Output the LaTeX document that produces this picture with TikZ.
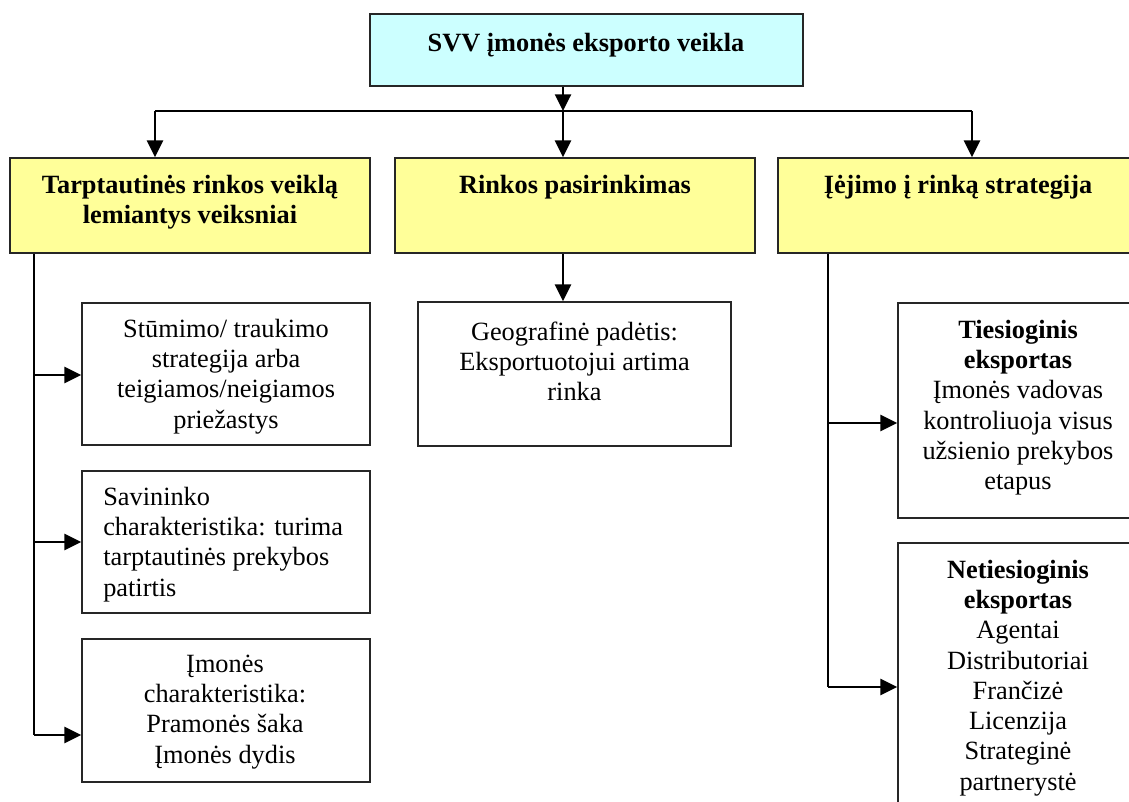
\documentclass[tikz,border=0pt]{standalone}
\usepackage{fontspec}
\setmainfont{Liberation Serif}
\usetikzlibrary{arrows.meta,fit}
\definecolor{cyanbg}{HTML}{CCFFFF}
\definecolor{yellowbg}{HTML}{FFFF99}
\tikzset{
  box/.style={draw=black!85, line width=1.3pt, inner sep=0pt},
  topbox/.style={box, fill=cyanbg},
  headbox/.style={box, fill=yellowbg},
  txt/.style={inner sep=0pt, align=center, font=\fontsize{19.75}{22.7}\selectfont},
  btxt/.style={txt, font=\fontsize{19.75}{22.7}\selectfont\bfseries},
  link/.style={line width=1.8pt},
  arr/.style={link, -{Triangle[length=12.5pt,width=12pt]}},
  bar/.style={line width=1pt},
}
\begin{document}
\begin{tikzpicture}[x=0.75pt,y=-0.75pt]
\useasboundingbox (0,0) rectangle (1129,801);
\clip (0,0) rectangle (1129,801);

% boxes
\node[topbox,  fit={(370,14) (803,86)}]    (top) {};
\node[headbox, fit={(10,158) (370,253)}]   (y1) {};
\node[headbox, fit={(395,158) (755,253)}]  (y2) {};
\node[headbox, fit={(778,158) (1138,253)}] (y3) {};
\node[box, fit={(82,303) (370,445)}]  (bA) {};
\node[box, fit={(82,471) (370,613)}]  (bB) {};
\node[box, fit={(82,639) (370,782)}]  (bC) {};
\node[box, fit={(418,302) (731,446)}] (mid) {};
\node[box, fit={(898,303) (1138,518)}] (tA) {};
\node[box, fit={(898,543) (1138,830)}] (tB) {};

% texts
\node[btxt, anchor=north] (ttop) at (586,29.8) {\strut SVV įmonės eksporto veikla};
\node[btxt, anchor=north] (ty1) at (190,171.8) {\strut Tarptautinės rinkos veiklą\\lemiantys veiksniai};
\node[btxt, anchor=north] (ty2) at (575,171.8) {\strut Rinkos pasirinkimas};
\node[btxt, anchor=north] (ty3) at (958,171.8) {\strut Įėjimo į rinką strategija};
\node[txt, anchor=north] (tbA) at (226,315.8) {\strut Stūmimo/ traukimo\\strategija arba\\teigiamos/neigiamos\\priežastys};
\node[txt, anchor=north west, align=left] (tbB) at (103,483.8) {\strut Savininko\\charakteristika: turima\\tarptautinės prekybos\\patirtis};
\node[txt, anchor=north] (tbC) at (225,650.8) {\strut Įmonės\\charakteristika:\\Pramonės šaka\\Įmonės dydis};
\node[txt, anchor=north] (tmid) at (574.5,318.8) {\strut Geografinė padėtis:\\Eksportuotojui artima\\rinka};
\node[txt, anchor=north] (ttA) at (1018,316.8) {\strut\textbf{Tiesioginis}\\\textbf{eksportas}\\Įmonės vadovas\\kontroliuoja visus\\užsienio prekybos\\etapus};
\node[txt, anchor=north] (ttB) at (1018,556.8) {\strut\textbf{Netiesioginis}\\\textbf{eksportas}\\Agentai\\Distributoriai\\Frančizė\\Licenzija\\Strateginė\\partnerystė};

% junction points
\coordinate (hl) at (155,111);
\coordinate (hm) at (563,111);
\coordinate (hr) at (972,111);
\coordinate (lb) at (34,735);
\coordinate (la) at (34,375);
\coordinate (rb) at (828,687);
\coordinate (ra) at (828,423);

% top level distribution
\draw[arr] (top.south -| hm) -- (hm);
\draw[bar] (hl) -- (hr);
\draw[arr] (hl) -- (y1.north -| hl);
\draw[arr] (hm) -- (y2.north -| hm);
\draw[arr] (hr) -- (y3.north -| hr);

% left branch
\draw[link] (y1.south -| lb) -- (lb);
\draw[arr] (la) -- (la -| bA.west);
\draw[arr] (bB.west -| lb) -- (bB.west);
\draw[arr] (lb) -- (lb -| bC.west);

% middle branch
\draw[arr] (y2.south -| hm) -- (mid.north -| hm);

% right branch
\draw[link] (y3.south -| rb) -- (rb);
\draw[arr] (ra) -- (ra -| tA.west);
\draw[arr] (rb) -- (rb -| tB.west);
\end{tikzpicture}
\end{document}
